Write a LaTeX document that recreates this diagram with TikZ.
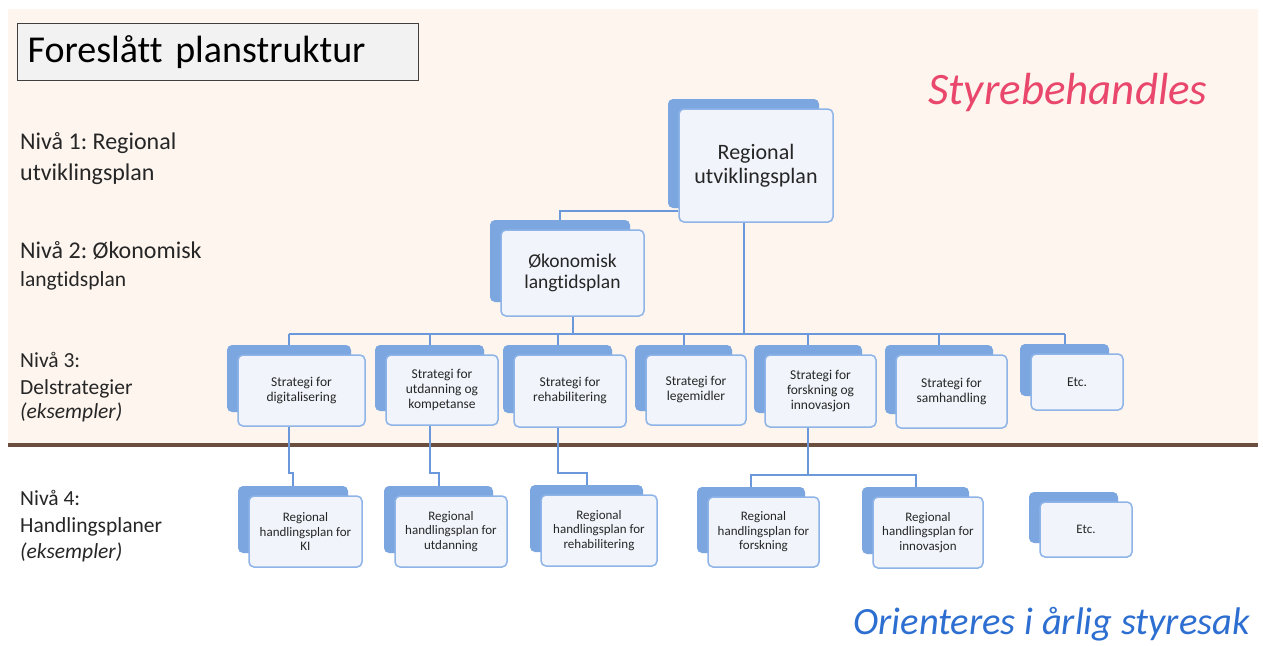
\documentclass[tikz,border=0pt]{standalone}
\usepackage{fontspec}
\setmainfont{Carlito}[Ligatures=NoCommon]
\usetikzlibrary{calc}
\definecolor{peach}{HTML}{FDF5EE}
\definecolor{brownline}{HTML}{6A4F3E}
\definecolor{backblue}{HTML}{7CA6E0}
\definecolor{frontfill}{HTML}{F1F5FB}
\definecolor{frontline}{HTML}{8EB4E8}
\definecolor{conn}{HTML}{6A98DA}
\definecolor{pinktxt}{HTML}{E9476C}
\definecolor{bluetxt}{HTML}{2D6ED1}
\definecolor{titlefill}{HTML}{F2F2F2}
\definecolor{titleline}{HTML}{404040}
\newcommand\stk[7]{%
  \pgfmathsetmacro\fcx{(#2+#4)/2}\pgfmathsetmacro\fcy{(#3+#5)/2}%
  \pgfmathsetmacro\fw{#4-#2}\pgfmathsetmacro\fh{#5-#3}%
  \pgfmathsetmacro\bcx{(#2+#4-25)/2}\pgfmathsetmacro\bcy{(#3+#5-24)/2}%
  \pgfmathsetmacro\bw{#4-#2-3}\pgfmathsetmacro\bh{#5-#3-4}%
  \node[backbox,minimum width=\bw pt,minimum height=\bh pt] (#1b) at (\bcx,\bcy) {};
  \node[frontbox,minimum width=\fw pt,minimum height=\fh pt,font=#6] (#1) at (\fcx,\fcy) {#7};
}
\frenchspacing
\begin{document}
\begin{tikzpicture}[x=1pt,y=-1pt,
  backbox/.style={rectangle,rounded corners=5pt,fill=backblue,draw=none,inner sep=0pt},
  frontbox/.style={rectangle,rounded corners=5pt,fill=frontfill,draw=frontline,line width=1.5pt,inner sep=0pt,align=center,text=black!85},
  connector/.style={draw=conn,line width=2pt},
  lbl/.style={anchor=base west,inner sep=0pt,text=black!85},
]
\useasboundingbox (0,0) rectangle (1263,645);
\fill[white] (0,0) rectangle (1263,645);
\fill[peach] (8,9) rectangle (1258,443);
\draw[brownline,line width=4pt] (8,445) -- (1258,445);

% title
\node[draw=titleline,fill=titlefill,line width=1.3pt,anchor=north west,minimum width=401pt,minimum height=57pt,text width=381pt,inner xsep=10pt,inner ysep=0pt,align=left,font=\fontsize{38}{42}\selectfont\frenchspacing] (title) at (17,23) {Foreslått planstruktur};

% left labels
\node[lbl,font=\fontsize{24}{28}\selectfont\frenchspacing] (l1a) at (20,149) {Nivå 1: Regional};
\node[lbl,font=\fontsize{24}{28}\selectfont] (l1b) at (20,180) {utviklingsplan};
\node[lbl,font=\fontsize{24}{28}\selectfont\frenchspacing] (l2a) at (20,258) {Nivå 2: Økonomisk};
\node[lbl,font=\fontsize{21.5}{25}\selectfont] (l2b) at (20,286) {langtidsplan};
\node[lbl,font=\fontsize{21.5}{25}\selectfont] (l3a) at (20,367) {Nivå 3:};
\node[lbl,font=\fontsize{21.5}{25}\selectfont] (l3b) at (20,394) {Delstrategier};
\node[lbl,font=\fontsize{21.5}{25}\selectfont\itshape] (l3c) at (20,418) {(eksempler)};
\node[lbl,font=\fontsize{21.5}{25}\selectfont] (l4a) at (20,505) {Nivå 4:};
\node[lbl,font=\fontsize{21.5}{25}\selectfont] (l4b) at (20,532) {Handlingsplaner};
\node[lbl,font=\fontsize{21.5}{25}\selectfont\itshape] (l4c) at (20,558) {(eksempler)};

\node[anchor=base,inner sep=0pt,text=pinktxt,font=\fontsize{45}{50}\selectfont\itshape] (styre) at (1068,104) {Styrebehandles};
\node[anchor=base east,inner sep=0pt,text=bluetxt,font=\fontsize{38.5}{42}\selectfont\itshape] (orient) at (1250,634) {Orienteres i årlig styresak};

\coordinate (bus) at (0,334);
\coordinate (jog) at (0,473);
\coordinate (bus4) at (0,475);

% boxes
\stk{top}{679}{109}{833}{222}{\fontsize{22}{24}\selectfont}{Regional\\utviklingsplan}
\stk{oko}{501}{230}{644}{316}{\fontsize{19.5}{21}\selectfont}{Økonomisk\\langtidsplan}

\stk{sa}{238}{355}{365}{426}{\fontsize{13.5}{15}\selectfont}{Strategi for\\digitalisering}
\stk{sb}{386}{355}{498}{425}{\fontsize{13.5}{15}\selectfont}{Strategi for\\utdanning og\\kompetanse}
\stk{sc}{514}{355}{626}{427}{\fontsize{13.5}{15}\selectfont}{Strategi for\\rehabilitering}
\stk{sd}{646}{355}{746}{425}{\fontsize{13.5}{15}\selectfont}{Strategi for\\legemidler}
\stk{se}{765}{355}{876}{427}{\fontsize{13.5}{15}\selectfont}{Strategi for\\forskning og\\innovasjon}
\stk{sf}{896}{355}{1007}{428}{\fontsize{13.5}{15}\selectfont}{Strategi for\\samhandling}
\stk{sg}{1031}{354}{1123}{410}{\fontsize{13.5}{15}\selectfont}{Etc.}

\stk{ha}{249}{496}{362}{567}{\fontsize{13}{14.5}\selectfont}{Regional\\handlingsplan for\\KI}
\stk{hb}{395}{496}{507}{567}{\fontsize{13}{14.5}\selectfont}{Regional\\handlingsplan for\\utdanning}
\stk{hc}{541}{495}{657}{566}{\fontsize{13}{14.5}\selectfont}{Regional\\handlingsplan for\\rehabilitering}
\stk{hd}{708}{497}{819}{567}{\fontsize{13}{14.5}\selectfont}{Regional\\handlingsplan for\\forskning}
\stk{he}{873}{497}{983}{568}{\fontsize{13}{14.5}\selectfont}{Regional\\handlingsplan for\\innovasjon}
\stk{hf}{1040}{502}{1132}{557}{\fontsize{13}{14.5}\selectfont}{Etc.}

% connectors
\draw[connector] ([yshift=12pt]top.south west) -| (okob.north);
\draw[connector] (topb.center |- top.south) -- (topb.center |- bus);
\draw[connector] (oko.south) -- (oko.south |- bus);
\draw[connector] (sab.north |- bus) -- (sgb.north |- bus);
\foreach \s in {sa,sb,sc,sd,se,sf,sg}{
  \draw[connector] (\s b.north |- bus) -- (\s b.north);
}
\draw[connector] (sab.center |- sa.south) -- (sab.center |- jog) -| (hab.north);
\draw[connector] (sbb.center |- sb.south) -- (sbb.center |- jog) -| (hbb.north);
\draw[connector] (scb.center |- sc.south) -- (scb.center |- jog) -| (hcb.north);
\draw[connector] (seb.center |- se.south) -- (seb.center |- bus4);
\draw[connector] (hdb.north) -- (hdb.north |- bus4) -- (heb.north |- bus4) -- (heb.north);
\end{tikzpicture}
\end{document}
